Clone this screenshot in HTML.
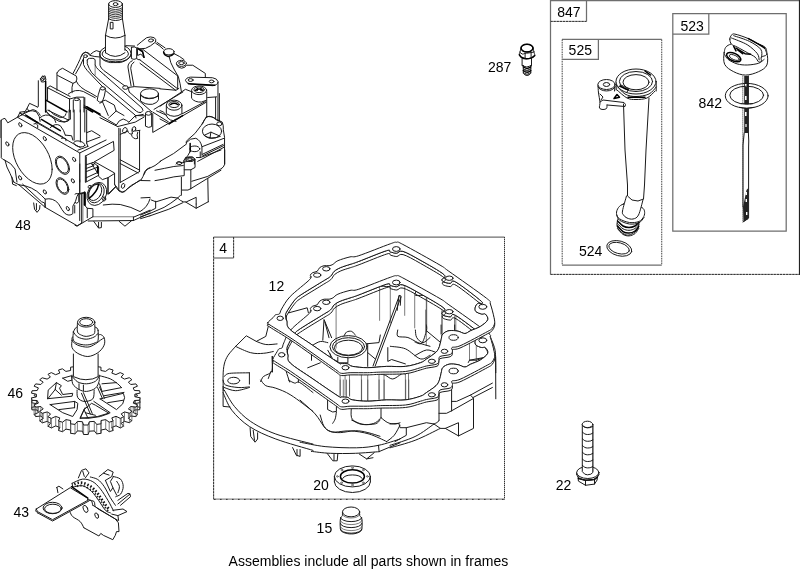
<!DOCTYPE html>
<html lang="en">
<head>
<meta charset="utf-8">
<title>Crankcase parts diagram</title>
<style>
html,body{margin:0;padding:0;background:#fff;}
body{width:800px;height:573px;overflow:hidden;font-family:"Liberation Sans",sans-serif;}
svg{display:block;filter:grayscale(1);}
.l,.t,.w,.h{vector-effect:non-scaling-stroke;stroke-linejoin:round;stroke-linecap:round;}
.l{fill:none;stroke:#1a1a1a;stroke-width:1;}
.h{fill:none;stroke:#000;stroke-width:1.5;}
.t{fill:none;stroke:#444;stroke-width:.7;}
.w{fill:#fff;stroke:#1a1a1a;stroke-width:1;}
.f{fill:none;stroke:#6e6e6e;stroke-width:1.25;}
.fb{fill:none;stroke:#aaa;stroke-width:1;}
.fd{fill:none;stroke:#303030;stroke-width:1;stroke-dasharray:2.2 .9;}
.fl{fill:none;stroke:#5a5a5a;stroke-width:1.1;stroke-dasharray:1.6 .8;}
.k{fill:#1a1a1a;stroke:none;}
text{font-family:"Liberation Sans",sans-serif;font-size:14px;fill:#000;}
</style>
</head>
<body>
<svg width="800" height="573" viewBox="0 0 800 573">
<rect width="800" height="573" fill="#fff"/>
<g id="frames">
<!-- frame 847 -->
<path class="f" d="M550.5 274.5V.6H799"/>
<path class="fb" d="M550.5 274.4H799.5"/><path class="fd" d="M550.5 274.4H799.5"/>
<path class="f" style="stroke:#222;stroke-width:1.2" d="M799.5 0V275"/>
<path class="f" d="M586.5 .5V21.4"/>
<path class="fb" d="M550.5 21.4H586.5"/><path class="fd" d="M550.5 21.4H586.5"/>
<!-- frame 525 -->
<path class="f" d="M562 39.4H661.8M562 265.1H661.8"/>
<path class="fl" d="M562.2 39.4V265.1M661.7 39.4V265.1"/>
<path class="f" d="M562.2 59.3H598.4V39.4"/>
<!-- frame 523 -->
<path class="f" d="M672.8 13.7H786.2V231H672.8Z"/>
<path class="f" d="M672.8 34.2H708.8V13.7"/>
<!-- frame 4 -->
<path class="f" d="M213.6 237H504.6"/>
<path class="fb" d="M213.6 237V499.3"/><path class="fd" d="M213.6 237V499.3"/>
<path class="fb" style="stroke:#8a8a8a;stroke-width:1.3" d="M213.6 499.2H504.6"/><path class="fd" style="stroke-dasharray:1.6 4.4" d="M214 499.4H504.6"/>
<path class="fb" d="M504.5 237V499.4"/><path class="fd" style="stroke-dasharray:1 1" d="M504.5 237V499.4"/>
<path class="f" d="M213.6 258H233.6"/>
<path class="fb" d="M233.6 237V258"/><path class="fd" d="M233.6 237V258"/>
</g>
<g id="block48">
<g transform="translate(60 0) scale(0.12563)">
<!-- crankshaft -->
<ellipse class="l" cx="442" cy="32" rx="55" ry="27"/>
<ellipse class="l" cx="442" cy="33" rx="19" ry="12"/>
<path class="l" d="M387 32V150M497 32V150"/>
<path class="l" style="stroke-width:.85" d="M387 62Q442 92 497 62M387 76Q442 106 497 76M387 90Q442 120 497 90M387 104Q442 134 497 104M387 118Q442 148 497 118M387 132Q442 162 497 132"/>
<path class="l" d="M387 150Q442 178 497 150"/>
<path class="l" d="M387 150L362 282M497 150L517 282"/>
<path class="l" d="M362 282Q440 325 517 282"/>
<path class="l" d="M403 178H422V230H403Z"/>
<path class="l" d="M362 282V420M517 282V400"/>
<path class="l" d="M362 420Q440 480 517 420"/>
</g>
<g transform="translate(60 0) scale(0.12563)">
<!-- bearing ring around shaft -->
<path class="l" d="M362 375Q318 395 315 428Q318 470 385 487Q440 497 500 487Q562 468 565 425Q560 385 517 368"/>
<path class="l" d="M362 395Q335 410 335 430Q340 462 400 475Q440 480 485 475Q540 460 545 428Q542 405 517 392"/>
<path class="l" d="M318 445Q330 485 400 498H480Q550 480 565 440"/>
<path class="t" d="M400 487V497M425 489V498M455 489V498M480 487V497"/>
<!-- left boss -->
<path class="l" d="M175 440Q180 418 205 416Q232 420 235 438"/>
<ellipse class="l" cx="203" cy="447" rx="15" ry="11"/>
<!-- right arm -->
<path class="l" d="M615 360Q650 330 690 300Q720 288 750 300Q770 315 760 335Q720 370 680 385L640 388"/>
<ellipse class="l" cx="724" cy="322" rx="20" ry="12" transform="rotate(-8 724 322)"/>
</g>
<g transform="translate(140 20) scale(0.12563)">
<path class="l" d="M125 185Q160 205 185 232M135 178L200 222"/>
<ellipse class="l" cx="230" cy="253" rx="42" ry="25"/>
<path class="h" d="M188 255Q190 282 225 290Q255 288 270 268"/>
<path class="l" d="M272 268Q320 290 350 315M232 292Q240 340 270 390L305 450Q320 500 330 573"/>
<ellipse class="l" cx="330" cy="345" rx="40" ry="24"/>
<ellipse class="l" cx="330" cy="343" rx="22" ry="12"/>
<path class="l" d="M290 352Q295 378 330 384Q362 382 370 360"/>
<path class="l" d="M375 360H420L520 425V455"/>
<path class="l" d="M400 455Q365 458 362 482Q368 505 405 510L580 523Q618 518 622 492Q615 465 580 460Z"/>
<ellipse class="l" cx="403" cy="478" rx="20" ry="11"/>
<ellipse class="l" cx="570" cy="489" rx="19" ry="11"/>
<path class="l" d="M20 232L300 445M0 318L300 548M0 345L285 560M300 445V548"/>
</g>

<g transform="translate(40 40) scale(0.12563)">
<!-- R1: left of shaft -->
<!-- small boss on slot -->
<ellipse class="l" cx="500" cy="385" rx="20" ry="13"/>
<path class="l" d="M478 390Q460 440 455 480Q470 500 495 495Q515 450 522 395"/>
<!-- rib right -->
<path class="l" d="M735 165Q700 180 700 215L725 365M748 175Q720 195 722 225L748 370"/>
<ellipse class="l" cx="680" cy="378" rx="22" ry="15"/>
<!-- rectangular block -->
<path class="l" d="M135 262Q150 232 180 225L290 288Q300 310 285 335L262 345L140 282"/>
<path class="l" d="M135 262V400M262 345Q250 370 255 420"/>
<path class="l" d="M290 330Q310 380 400 420L450 450M225 430Q280 385 345 410L440 460"/>
<!-- pin left -->
<path class="l" d="M5 305Q20 290 40 285L48 320Q35 340 15 335Z"/>
<ellipse class="l" cx="22" cy="315" rx="9" ry="9"/>
<path class="h" d="M45 330V573"/>
<!-- fins -->
<path class="l" d="M60 380L80 365L240 450M60 380L235 470M60 380V480"/>
<path class="h" d="M50 480L215 573"/>
<path class="l" d="M235 470V573M235 470L290 455H350V573M265 480V573M320 480V573"/>
<ellipse class="l" cx="292" cy="472" rx="22" ry="10"/>
<path class="l" d="M350 520L440 573"/>
<path class="h" d="M352 535L420 573"/>
</g>

<g transform="translate(0 60) scale(0.12563)">
<!-- R2: pin post, steps, panel -->
<path class="l" d="M305 165V370L300 375M322 150L340 125L358 150"/>
<path class="l" d="M0 490L20 470L40 465L62 500L140 455L160 415L200 410L215 385L235 345L300 375"/>
<path class="l" d="M160 415L175 440M215 385L230 405M140 455Q200 420 260 395Q300 400 320 440"/>
<path class="l" d="M365 400Q375 430 400 440L510 495Q545 492 560 470"/>
<path class="l" d="M380 400L545 478"/>
<path class="l" d="M675 300V573M560 470V400M700 380L796 440"/>
<path class="h" d="M690 372L796 432"/>
</g>
<g transform="translate(0 110) scale(0.12563)">
<!-- R3: head gasket face -->
<path class="l" d="M140 58L635 342V573"/>
<path class="l" d="M10 80V380Q20 395 40 400Q50 455 80 505L110 573M40 400Q90 420 120 470L135 573"/>
<path class="t" d="M4 95V220"/>
<g transform="matrix(.845 .465 0 1 258 385)">
<circle class="l" r="186"/>
</g>
<g transform="matrix(.845 .465 0 1 497 440)">
<circle class="l" r="66"/><circle class="l" r="57"/>
</g>
<g transform="matrix(.845 .465 0 1 0 0)">
<circle class="l" cx="191" cy="29" r="15"/>
<circle class="l" cx="422" cy="32" r="15"/>
<circle class="l" cx="69" cy="238" r="15"/>
<circle class="l" cx="698" cy="69" r="15"/>
<circle class="l" cx="189" cy="452" r="15"/>
<circle class="l" cx="686" cy="245" r="15"/>
<circle class="l" cx="588" cy="332" r="60"/><circle class="l" cx="588" cy="332" r="51"/>
<circle class="l" cx="422" cy="456" r="15"/>
<circle class="l" cx="639" cy="488" r="15"/>
</g>
<!-- fins above plate -->
<path class="l" d="M160 25L640 300M210 45L500 215"/>
<path class="h" d="M205 40L300 100M330 75L480 165"/>
<path class="l" d="M180 30Q230 -10 290 15Q320 50 320 90M320 60Q360 25 410 50Q440 70 445 100M400 140Q440 100 480 125Q510 160 520 200"/>
<path class="l" d="M270 110Q290 100 300 120V140M490 225Q510 215 525 230V245M520 200L570 205L580 240"/>
<path class="l" d="M375 20Q400 60 470 90Q530 105 550 70V0M390 0Q420 40 480 60Q520 60 525 30"/>
<path class="l" d="M590 0V240M640 0V255M690 0V265"/>
<ellipse class="l" cx="632" cy="270" rx="45" ry="22" transform="rotate(15 632 270)"/>
<path class="l" d="M620 320L700 290M635 342L796 262M690 265L700 290"/>
<path class="l" d="M690 180L730 165L796 205M690 255L796 215"/>
<!-- box right of corner -->
</g>

<g transform="translate(100 92) scale(0.12563)">
<!-- R4 -->
<ellipse class="l" cx="386" cy="170" rx="23" ry="15"/>
<path class="l" d="M362 172V272Q386 290 411 275V172"/>
<path class="l" d="M420 172V322L605 215M420 160L545 238M430 138L660 0M450 150L530 185"/>
<ellipse class="l" cx="590" cy="105" rx="62" ry="40"/>
<ellipse class="l" cx="590" cy="100" rx="42" ry="24"/>
<path class="h" d="M560 100Q590 80 620 100"/>
<path class="l" d="M528 110V172Q590 215 652 172V110"/>
<!-- left stuff -->
<path class="l" d="M0 185L130 262M0 205L140 275M130 262Q150 220 185 215Q215 225 230 240"/>
<path class="l" d="M140 275L280 240L350 200M230 240L280 190L345 178"/>
<ellipse class="l" cx="198" cy="305" rx="17" ry="23" transform="rotate(25 198 305)"/>
<ellipse class="l" cx="270" cy="295" rx="14" ry="20" transform="rotate(25 270 295)"/>
<path class="l" d="M280 310L318 305M250 340Q260 380 300 370Q290 340 300 320"/>
<!-- lower right curve -->
</g>

<g transform="translate(70 45) scale(0.07500)">
<!-- G: boss, slot start -->
<path class="l" d="M150 150Q150 115 205 95Q245 100 270 128Q310 90 350 75L400 90"/>
<path class="l" d="M270 140Q330 158 395 160"/>
<path class="l" d="M150 150Q120 230 40 380M178 185Q140 280 75 385"/>
<path class="l" d="M400 100V270Q410 310 450 340L735 548"/>
<path class="l" d="M230 200Q235 180 260 178H305Q330 180 335 200V265Q345 300 380 330L460 400"/>
<path class="l" d="M230 200V250Q250 310 290 370L400 475"/>
<path class="t" d="M335 265V400"/>
<path class="l" d="M180 170V260Q195 300 230 340L400 520L440 560"/>
</g>
<g transform="translate(100 75) scale(0.07500)">
<!-- F: slot, cylinder boss -->
<path class="l" d="M60 0L560 440Q592 475 548 500Q510 503 488 485L0 75"/>
<path class="l" d="M85 215L470 535L480 573M390 228L690 490"/>
<path class="l" d="M383 170Q375 200 390 228M385 165L460 155L800 178M475 540L600 545"/>
<ellipse class="l" cx="660" cy="250" rx="120" ry="66"/>
<path class="l" d="M540 255V345Q600 400 700 390Q770 370 780 330V255"/>
<path class="l" d="M545 272Q640 345 775 285"/>
<path class="l" d="M30 350L70 335L190 400L215 480L130 560L115 573M30 350L0 380M30 350L110 540M215 480L320 540"/>
</g>

<g transform="translate(160 70) scale(0.09425)">
<!-- H: screw bosses, right wall -->
<path class="h" d="M300 145L580 162"/>
<ellipse class="l" cx="415" cy="215" rx="80" ry="46"/>
<ellipse class="l" cx="415" cy="210" rx="55" ry="30"/>
<path class="h" d="M375 215Q415 190 455 215M395 195V215M435 195V215"/>
<path class="l" d="M335 225V300Q370 345 440 340L490 322M496 230V500"/>
<path class="l" d="M0 385L270 205L330 228M235 465L480 335M90 573L490 342"/>
<path class="h" d="M100 570L240 485"/>
<path class="l" d="M590 290V520M615 130V540M630 250V540M505 292L600 285"/>
<path class="l" d="M450 573Q470 520 500 495Q550 480 600 530L640 545"/>
<path class="l" d="M0 200L170 215L200 195"/>
<path class="l" d="M0 430Q40 440 60 470Q80 520 110 530L170 545M0 520L100 573"/>
</g>

<g transform="translate(160 110) scale(0.09425)">
<!-- I: mounting bosses right -->
<path class="l" d="M490 75Q540 55 600 100L660 128Q675 160 672 210L685 290V573"/>
<path class="l" d="M490 75Q440 170 370 250L290 320Q272 335 278 355"/>
<ellipse class="l" cx="552" cy="225" rx="102" ry="76"/>
<path class="l" d="M470 268L540 235L625 272M540 235L530 300M468 270Q540 320 640 280"/>
<ellipse class="l" cx="630" cy="147" rx="28" ry="20"/>
<path class="l" d="M280 345Q320 295 380 300Q430 320 445 390V480"/>
<ellipse class="l" cx="370" cy="412" rx="52" ry="30"/>
<path class="h" d="M320 355V440"/>
<path class="l" d="M320 440Q300 480 270 520M445 390L680 300M450 470L670 365M455 485L675 378M400 545L680 395"/>
<path class="l" d="M0 545Q150 470 280 362"/>
<ellipse class="l" cx="320" cy="522" rx="45" ry="25"/>
<ellipse class="l" cx="318" cy="522" rx="25" ry="13"/>
<path class="l" d="M170 573L200 548L240 560M365 530V573M250 540L275 500"/>
</g>

<g transform="translate(155 150) scale(0.09425)">
<!-- J: lower right -->
<path class="l" d="M740 0V150Q730 185 700 200L560 280L390 332"/>
<path class="l" d="M700 215L560 300L380 410M560 300L565 550"/>
<path class="l" d="M300 130L350 80L400 75L425 100V185L380 210H310V130ZM300 130L360 118L425 100"/>
<path class="l" d="M-85 206Q-40 185 0 165L60 120M-85 206Q-105 230 -115 258"/>
<ellipse class="l" cx="255" cy="140" rx="28" ry="14" transform="rotate(10 255 140)"/>
<path class="l" d="M0 215Q100 195 200 175L300 165M0 325Q100 310 200 285L310 272V210"/>
<path class="l" d="M380 210V410M280 290V480M290 425H350L380 410"/>
<path class="l" d="M-40 530L10 550L170 500L240 510L270 480M240 510Q270 540 300 550L330 552L437 502V573"/>
<path class="l" d="M480 20V80L700 0M440 80L480 80"/>
</g>

<g transform="translate(0 164) scale(0.12563)">
<!-- K: bottom of head face -->
<path class="l" d="M150 165L360 345L615 492L650 470"/>
<path class="l" d="M95 105L100 160L130 172M105 140Q125 155 150 165"/>
<path class="l" d="M150 165Q260 175 330 250L360 280Q420 265 465 315Q495 370 515 392Q550 420 580 395V335Q605 300 612 260L625 235"/>
<path class="l" d="M180 160L330 300L355 310L360 345M360 280V345M595 330V390"/>
<path class="l" d="M268 310L275 360L295 385L315 360L318 330M290 315V365"/>
<path class="l" d="M635 0V240L650 235V470M625 235H665L680 225V330"/>
<path class="t" d="M660 240V460"/>
</g>

<g transform="translate(75 140) scale(0.09425)">
<!-- M: box window & frame -->
<path class="l" d="M265 31L330 0"/>
<path class="l" d="M110 170L408 15L415 110L205 232M110 170V450L250 375M120 178V440"/>
<path class="l" d="M120 262L190 240M120 302L200 272M120 335L235 290M120 400L240 345"/>
<ellipse class="l" cx="192" cy="250" rx="15" ry="12"/>
<path class="l" d="M180 258L240 350M205 245L250 285V385L290 420L350 400L420 355"/>
<path class="h" d="M240 275V350"/>
<path class="l" d="M210 232L420 350V470M350 400V573M360 573L430 500"/>
<path class="l" d="M465 -125V520M480 -120V450M685 -100V335"/>
<path class="l" d="M480 210L685 320M480 250L670 350M480 450L685 335"/>
<ellipse class="l" cx="510" cy="487" rx="17" ry="27" transform="rotate(20 510 487)"/>
<path class="l" d="M420 470Q425 500 470 545Q500 560 525 550Q570 500 600 480L700 425Q725 390 740 335Q765 300 796 292M700 430L796 432"/>
<path class="l" d="M480 -60L560 -95M560 -95Q570 -55 610 -65Q600 -95 610 -115"/>
</g>

<g transform="translate(75 180) scale(0.09425)">
<!-- N: port flange and base -->
<ellipse class="l" cx="232" cy="148" rx="98" ry="128" transform="rotate(28 232 148)"/>
<ellipse class="l" cx="225" cy="140" rx="78" ry="108" transform="rotate(28 225 140)"/>
<ellipse class="l" cx="215" cy="132" rx="62" ry="92" transform="rotate(28 215 132)"/>
<path class="h" d="M250 50Q235 130 150 195"/>
<ellipse class="l" cx="155" cy="72" rx="18" ry="14" transform="rotate(-30 155 72)"/>
<ellipse class="l" cx="310" cy="202" rx="16" ry="22" transform="rotate(20 310 202)"/>
<path class="l" d="M50 0V430M0 480L20 490L190 390M100 130V265L130 300L190 305V390M130 300V400"/>
<path class="h" d="M100 130V265"/>
<path class="l" d="M60 140L100 130"/>
<path class="t" d="M190 390H620"/>
<path class="l" d="M140 435L620 430M620 395L796 320M620 430L796 350M620 395V430"/>
<path class="l" d="M200 440L250 510L280 505V450M250 450V505M470 440L530 490L600 432"/>
<path class="l" d="M300 265Q400 250 480 260Q600 285 690 335Q770 290 796 200M700 190L796 185"/>
<path class="l" d="M350 -20V150L430 70M430 60Q470 120 500 130Q540 115 560 90L690 0"/>
<path class="l" d="M0 150Q30 130 40 160V230Q20 260 0 240"/>
</g>

<g transform="translate(150 180) scale(0.09425)">
<!-- O: bottom right foot -->
<path class="l" d="M620 230L490 300L380 235M490 255V300"/>
<path class="l" d="M60 225V300L0 330M290 195Q220 250 150 290L0 355M350 240L200 310L0 380"/>
<path class="l" d="M-100 372L0 330M-100 390L0 355M-100 410L0 380"/>
</g>
<g transform="translate(100 40) scale(0.12563)">
<!-- strap + triangle between ring and arm -->
<path class="l" d="M250 58V148Q270 160 292 148V62Q275 50 250 58M205 45L275 48"/>
<path class="l" d="M300 62L335 80L352 142L325 112L302 122Z"/>
<path class="h" d="M305 70L340 95L350 138"/>
<path class="l" d="M292 148Q300 160 318 158"/>
</g>
</g>
<g id="sump12">
<path class="t" d="M379.6 286.5L379.6 320.4"/>
<path class="t" d="M390.3 285.2L390.3 322.9"/>
<path class="t" d="M404.7 284L404.7 315.4"/>
<path class="t" d="M414.7 295.3L414.7 327.9"/>
<path class="t" d="M426.7 295.9L426.7 330.5"/>
<path class="l" d="M378.9 285.9C380.6 286 386.9 286.7 389 286.5C391.1 286.3 390.4 284.8 391.5 284.6C392.7 284.4 394.2 285.3 395.9 285.2C397.6 285.1 400.2 284.2 401.6 284C402.9 283.8 401.8 282.9 404.1 284C406.4 285 413.5 288.4 415.4 290.3C417.3 292.1 413.5 294.3 415.4 295.3C417.3 296.2 422.6 294.4 426.7 295.9C430.8 297.4 437.8 302.7 440 304.1"/>
<path class="l" d="M397.2 310.4L399 295.3 400.9 295.9 400.3 305.3"/>
<path class="l" d="M399.2 296L373 366"/>
<path class="l" d="M401 297L375.2 366"/>
<path class="t" d="M426.3 296.5L426.3 345.5"/>
<path class="t" d="M442 311.5L442 342.9"/>
<path class="t" d="M454.5 316.6L454.5 336.7"/>
<path class="l" d="M288.9 312.8L307.2 307.8 308.4 312.8"/>
<path class="t" d="M336.1 300.2L336.1 348"/>
<path class="l" d="M322.8 340.2L324 319.5 331.6 337.7"/>
<path class="l" d="M324.9 322L329 337.7"/>
<ellipse class="l" cx="348.5" cy="346.7" rx="18.6" ry="11.1"/>
<ellipse class="l" cx="348.5" cy="346.7" rx="16.1" ry="9"/>
<ellipse class="l" cx="348.5" cy="347.7" rx="14.1" ry="7.5"/>
<path class="l" d="M344.1 335.8C344.5 335.2 345.4 332.8 346.6 332C347.9 331.3 350.2 330.9 351.7 331.4C353.1 331.9 354.8 334.5 355.4 335.2"/>
<path class="l" d="M312.7 345.2C314 344.6 317.7 341.9 320.3 341.5C322.8 341 326.5 342.5 327.8 342.7"/>
<path class="l" d="M311.5 346.5L311.5 360.3"/>
<path class="l" d="M327.8 350.3L332.8 359 337.8 361.6"/>
<path class="l" d="M330.3 354L330.3 362.8"/>
<path class="l" d="M283.8 347.7L283.8 360.3 288.8 372"/>
<path class="l" d="M307.7 367.8L320.3 362.8"/>
<path class="l" d="M272.5 356.5L272.5 372"/>
<path class="l" d="M337.8 357.2L337.8 362.8 347.9 362.8 347.9 357.2"/>
<path class="l" d="M366.4 343.8L379 342.6 380.3 335"/>
<path class="l" d="M367.7 343.8L367.7 366.4"/>
<path class="l" d="M367.7 352.6L375.2 358.9"/>
<path class="l" d="M390.3 346.3C392.8 346.8 400.4 346.8 405.4 348.8C410.4 350.9 416.3 357.8 420.5 358.9C424.6 359.9 428.4 355.8 430 355.1"/>
<path class="l" d="M387.8 347.6L387.8 361.4 391.6 359.5 405.4 363.9"/>
<path class="l" d="M397.8 330C397.8 331 396.2 335 397.8 336.3C399.5 337.5 404.5 336.5 407.9 337.5C411.2 338.6 414.3 341.1 417.9 342.6C421.6 344 428 345.7 430 346.3"/>
<path class="l" d="M415.4 330C415.6 331.3 415.4 335.4 416.7 337.5C417.9 339.6 420.7 342.6 423 342.6C425.2 342.6 428.8 338.4 430 337.5"/>
<path class="t" d="M340.1 374L340.1 395.3"/>
<path class="t" d="M345.1 374L345.1 395.3"/>
<path class="t" d="M349.5 374L349.5 395.3"/>
<path class="t" d="M361.4 374L361.4 402"/>
<path class="t" d="M367.7 374L367.7 402"/>
<path class="t" d="M379 374L379 402"/>
<path class="t" d="M384 374L384 402"/>
<path class="t" d="M405.4 372.7L405.4 400.4"/>
<path class="t" d="M408.5 372.7L408.5 400.4"/>
<path class="l" d="M380.3 374C381.1 374.2 383.2 374.4 385.3 375.2C387.4 376.1 390.1 379.2 392.8 379C395.5 378.8 399.5 374.8 401.6 374C403.7 373.1 404.7 374 405.4 374"/>
<path class="l" d="M415 342C416.1 342.2 419.9 345.1 421.8 343.2C423.7 341.3 425.6 333.7 426.4 330.7C427.1 327.6 426.4 325.9 426.4 325"/>
<path class="l" d="M426.4 330.7L440 342"/>
<path class="l" d="M441.1 325L441.1 334.1"/>
<path class="l" d="M454.7 325L454.7 330.7"/>
<path class="l" d="M415 355.6C416.9 354.7 422.9 350.5 426.4 350C429.8 349.4 433.9 351.9 435.4 352.2"/>
<path class="l" d="M488.8 332.9C489.7 335.4 493.3 343.7 494.5 347.7C495.6 351.7 495.4 352.6 495.6 356.8C495.8 360.9 495.8 370 495.8 372.7"/>
<path class="t" d="M476.3 339.8L476.3 359.1"/>
<path class="t" d="M469.5 342L469.5 360.2"/>
<path class="l" d="M484.2 346.6C484.8 347.5 487.5 350.5 487.6 352.2C487.8 353.9 487.3 355.5 485.4 356.8C483.5 358.1 477.8 359.6 476.3 360.2"/>
<path class="l" d="M476.3 360.2L469.5 360.2 468.3 362.5"/>
<path class="l" d="M469.5 360.2L494.5 355.6"/>
<path class="l" d="M495.6 356.8L495.8 398.8"/>
<path class="t" d="M425.7 310L425.7 331.4"/>
<path class="t" d="M442 310L442 333.9"/>
<path class="t" d="M455.8 316.3L455.8 331.4"/>
<path class="l" d="M235.6 346.4C234.4 347.9 230 352.3 228.1 355.2C226.2 358.2 225.1 360.7 224.3 364C223.5 367.4 223.2 370.9 223.1 375.3C222.9 379.7 223.3 387.9 223.3 390.4"/>
<path class="l" d="M235.6 346.4L246.3 335.8 256.3 341.4 265.8 336.4 268.3 326.3"/>
<path class="l" d="M235.6 346.4C238.1 347.5 246.1 351.6 250.7 352.7C255.3 353.9 259.5 353.6 263.3 353.3C267 353.1 271.6 351.8 273.3 351.5"/>
<path class="l" d="M256.3 341.4C257.9 341.9 262.3 344.1 265.8 344.5C269.2 345 275.2 344 277.1 343.9"/>
<path class="l" d="M224.3 376.6C225.1 376.1 225.1 374.1 229.3 373.4C233.5 372.8 246.1 372.9 249.4 372.8"/>
<path class="l" d="M249.4 372.8L249.4 384.1"/>
<path class="l" d="M272 356.5C272 358.8 272.7 367.4 272 370.3C271.4 373.2 269.7 373 268.3 374.1C266.8 375.1 264.5 375.3 263.3 376.6C262 377.8 261.2 380.8 260.7 381.6"/>
<path class="l" d="M270.8 371.6L268.3 378.5"/>
<path class="l" d="M284 360.3C284.3 361.9 284.9 366.7 285.9 370.3C286.8 373.9 289 380 289.6 382"/>
<path class="l" d="M289.6 362.8L288.4 369 298.4 370.3 298.4 382"/>
<ellipse class="l" cx="233.7" cy="380.6" rx="6" ry="3.3"/>
<path class="l" d="M223.1 380C223.5 380.8 223.1 383.8 225.6 385C228.1 386.3 234.1 387.2 238.1 387.5C242.1 387.9 247.5 387 249.4 386.9"/>
<path class="l" d="M224.3 387.5C226.2 388.1 231.4 390.7 235.6 390.7C239.8 390.7 247.1 388.1 249.4 387.5"/>
<path class="l" d="M223.1 386.3L223.1 406.4 230 407"/>
<path class="l" d="M224.3 390.1C226 392.8 230 401.1 234.4 406.4C238.8 411.6 243.8 416.9 250.7 421.5C257.6 426.1 265.4 430.3 275.8 434C286.2 437.8 306.8 442.4 313 444.1"/>
<path class="l" d="M223.1 392.6C224.5 395.5 227.4 404.5 231.8 410.2C236.2 415.8 242.1 421.7 249.4 426.5C256.8 431.3 265.2 435.1 275.8 439C286.4 443 306.8 448.5 313 450.4"/>
<path class="l" d="M250.1 427.7L250.7 436.5 255.1 442.2 257.6 439 257.6 432.8"/>
<path class="l" d="M253.2 430.3L254.5 440.3"/>
<path class="l" d="M260.7 380C261.6 380.9 263.3 384.3 265.8 385.7C268.3 387 271.6 386.6 275.8 388.2C280 389.7 284.7 391.2 290.9 395.1C297.1 398.9 309.3 408.7 313 411.4"/>
<path class="l" d="M288.4 380C289.4 380.5 292.8 382.7 294.7 383.1C296.5 383.6 296.6 380.9 299.7 382.5C302.7 384.1 310.8 390.9 313 392.6"/>
<path class="l" d="M327.6 393.8L330.2 392.6"/>
<path class="l" d="M327.6 395.1L327.6 409.5 332.7 412 336.4 411.4 336.4 398.8 330.2 397.6 327.6 395.1"/>
<path class="l" d="M336.4 412C336.2 413.2 335.8 417.1 335.2 418.9C334.5 420.8 333.1 422.6 332.7 423.3"/>
<path class="l" d="M351.5 405.1C351.5 407.2 350.5 414.8 351.5 417.7C352.6 420.6 355.3 421.6 357.8 422.7C360.3 423.9 363.7 424.6 366.6 424.6C369.5 424.6 373 423.9 375.4 422.7C377.8 421.6 380.1 418.5 381 417.7"/>
<path class="l" d="M381 403.9L381 417.7"/>
<path class="l" d="M381 417.7C382.2 418.5 385.5 421.7 387.9 422.7C390.3 423.8 393.5 424 395.5 424C397.5 424 399.2 422.9 400 422.7"/>
<path class="t" d="M340.2 380L340.2 396.3"/>
<path class="t" d="M343.3 380L343.3 396.3"/>
<path class="t" d="M346.5 380L346.5 396.3"/>
<path class="t" d="M349.6 380L349.6 396.3"/>
<path class="t" d="M361.6 380L361.6 401.4"/>
<path class="t" d="M367.8 380L367.8 401.4"/>
<path class="t" d="M379.1 380L379.1 398.8"/>
<path class="t" d="M384.2 380L384.2 398.8"/>
<path class="l" d="M300 400.1C302.5 402.4 311.1 409.5 315.1 413.9C319.1 418.3 321.6 423.7 323.9 426.5C326.2 429.3 327 429.9 328.9 430.9C330.8 431.8 331.6 432.1 335.2 432.1C338.7 432.1 344.6 430.6 350.3 430.9C355.9 431.2 363 432.2 369.1 434C375.2 435.8 383.8 440.3 386.7 441.6"/>
<path class="l" d="M386.7 441.6C387.9 440.5 392 438 394.2 435.3C396.4 432.6 399 426.9 400 425.2"/>
<path class="l" d="M300 442.2C304.2 442.9 315.7 445.6 325.1 446.6C334.5 447.5 347.6 448 356.5 447.8C365.4 447.6 371.3 446.8 378.5 445.3C385.8 443.9 396.4 440.1 400 439"/>
<path class="l" d="M378.5 445.3L379.1 451.6 400 442.8"/>
<path class="l" d="M439 392.6L439 420.2"/>
<path class="l" d="M451.6 386.3L451.6 410.8"/>
<path class="l" d="M439 413.3L446.5 413.3 451.6 410.8"/>
<path class="l" d="M451.6 401.4L456.6 401.4 470.4 395.1 492.4 383.1"/>
<path class="l" d="M472.9 397.6L492.4 387.5"/>
<path class="l" d="M470.4 395.1L473.5 398.2 473.5 428.4 458.5 435.9 445.3 428.4 440.3 428.4 434 424"/>
<path class="l" d="M445.3 428.4L458.5 422.7 458.5 435.9"/>
<path class="l" d="M451.6 410.8L472.9 398.8"/>
<path class="l" d="M439 420.2C438.8 420.5 438.6 421.5 437.7 422.1C436.9 422.7 434.6 423.7 434 424"/>
<path class="l" d="M434 424L426.4 422.7 406.3 427.7 400.1 427.7 398.8 423.3 390 424"/>
<path class="l" d="M406.3 427.7L406.3 435.3 395 441.6"/>
<path class="l" d="M434 424C430.8 426.1 422.5 433 415.1 436.5C407.8 440.1 394.2 443.9 390 445.3"/>
<path class="l" d="M440.3 428.4C436.1 430.4 423.5 437.1 415.1 440.3C406.8 443.5 394.2 446.6 390 447.8"/>
<path class="t" d="M405.7 380L405.7 398.8"/>
<path class="t" d="M408.8 380L408.8 398.8"/>
<path class="l" d="M311.4 451.4C314.5 451.7 322.9 453 330.3 453.3C337.6 453.6 347.2 453.6 355.4 453.3C363.5 453 375.3 451.9 379.2 451.7"/>
<path class="l" d="M292.6 447.6L296.3 455.2 300.1 456.4 300.1 449.5"/>
<path class="l" d="M297 449.5L297 455.8"/>
<path class="l" d="M327.1 453.3L332.8 460.8 337.2 460.8 337.8 453.9"/>
<path class="l" d="M334 454.5L334 460.2"/>
<path class="l" d="M359.1 453.9L366.7 458.9 374.2 452.7"/>
<path class="l" d="M366.7 458.9L373 457.7"/>
<path class="l" d="M320.2 415C320.8 416.9 322.3 423.6 324 426.3C325.6 429 327.5 430.3 330.3 431.3C333 432.4 336.1 432.7 340.3 432.6C344.5 432.5 350.8 430.7 355.4 430.7C360 430.7 363.8 431.6 367.9 432.6C372 433.5 378 435.7 380 436.3"/>
<path class="l" d="M351.6 420C353.3 420.7 357.7 423.8 361.7 424.4C365.6 425 372.4 424.5 375.5 423.8C378.5 423 379.2 420.6 380 420"/>
<path class="w" fill-rule="evenodd" d="M272.8 361.6C273.3 360 276.1 355.9 277.1 354.2C278.1 352.5 278.1 352.1 278.9 351.4C279.8 350.8 281.3 351.3 282.1 350.3C282.9 349.3 282.4 348.3 283.8 345.4C285.2 342.4 286.3 337.5 290.6 332.6C294.9 327.6 306.4 319.1 309.7 315.5C313 311.9 309.8 312.2 310.3 311.1C310.8 310 311.7 309.2 312.8 308.6C313.9 308 316.1 308.1 317.2 307.3C318.3 306.5 318.5 304.5 319.7 303.6C320.9 302.7 322.5 302 324.1 301.7C325.7 301.4 327.6 301.9 329.1 301.7C330.6 301.5 331.4 301.2 332.9 300.4C334.4 299.6 335 297.9 337.9 296.7C340.8 295.4 346.5 293.7 350 292.9C353.5 292.1 352.1 293.9 358.8 291.7C365.5 289.5 384 282 390.3 279.8C396.6 277.6 394.4 278.2 396.5 278.3C398.6 278.4 395.6 276.6 402.8 280.4C410.1 284.2 432.3 296.6 440 301.1C447.7 305.6 441.1 301.8 448.9 307.3C456.7 312.8 479.7 328.9 486.6 334.3C493.5 339.8 489.1 336.8 490.4 340C491.6 343.2 493.4 350.5 494.1 353.8C494.8 357.1 494.9 358.2 494.5 360C494.1 361.8 493.1 363.3 492 364.5C490.9 365.7 493 364.6 487.8 367.4C482.6 370.2 467 378.7 461 381.4C455 384.1 453.4 382.6 452 383.5C450.6 384.4 452.8 385.8 452.5 387C452.2 388.2 452.3 389.6 450.2 390.5C448.1 391.4 441.9 391.5 440 392.5C438.1 393.5 439.3 395.2 438.8 396.5C438.3 397.8 439.1 399.1 437 400C434.9 400.9 429.1 401.4 426.4 402C423.6 402.6 424 402.8 420.5 403.7C417 404.6 412.1 406.8 405.4 407.5C398.7 408.2 386.6 407.9 380.3 408.1C374 408.3 372.7 408.6 367.7 408.7C362.7 408.8 354.5 408.6 350.1 408.7C345.7 408.8 343.7 409.8 341.3 409.3C338.9 408.8 340.2 408.8 335.5 405.5C330.8 402.2 320.5 394.8 313 389.5C305.5 384.2 296.8 378 290.4 373.8C284 369.5 277.5 365.8 274.6 363.8C271.7 361.7 272.4 363.2 272.8 361.6ZM287.1 349.7C287 348.2 286.4 348.5 287.6 345.9C288.7 343.4 291.9 337.3 294 334.4C296.1 331.5 295.7 331.8 300.3 328.7C304.9 325.6 316.6 318.6 321.6 315.5C326.6 312.4 328.3 311.7 330.4 309.9C332.5 308.1 332.5 306.3 334.2 304.8C335.9 303.3 337.9 302.2 340.5 301.1C343.1 300 346.9 298.9 350 297.9C353.1 296.9 352.7 297.2 358.8 294.9C364.9 292.6 381.2 285.8 386.5 284.2C391.8 282.6 388.6 285 390.3 285.4C392 285.8 394.4 286.8 396.5 286.7C398.6 286.6 398.9 283.7 402.8 284.8C406.7 285.9 413.1 289.6 420 293.5C426.9 297.4 440.2 304.8 443.9 308C447.6 311.2 442 311.8 442 313C442 314.2 442.5 314.9 443.9 315.5C445.3 316.1 448.2 316.8 450.2 316.8C452.2 316.8 450.6 312.5 455.8 315.5C461 318.5 477.9 331.4 481.6 335C485.3 338.6 478.9 336 477.8 336.9C476.8 337.8 475.6 339.2 475.3 340.6C475 342 474.8 343.9 475.9 345C476.9 346.1 480 347.1 481.6 347.5C483.2 347.9 484.3 346.6 485.3 347.5C486.3 348.4 488.6 351.1 487.8 353.2C487 355.3 483.2 358.2 480.3 360C477.4 361.8 473.2 363 470.6 364.2C468 365.4 467 366.9 464.9 367C462.8 367.1 460.7 365.2 458.1 364.7C455.5 364.2 451.7 363.7 449.1 364.2C446.6 364.7 444.1 366.1 442.8 367.6C441.5 369.1 441.7 371.2 441.1 373.3C440.5 375.4 440.2 378 439.4 380.1C438.5 382.2 438.2 383.6 436 385.7C433.8 387.8 429 390.9 426.4 392.6C423.8 394.4 424 395 420.5 396.2C417 397.4 411.1 399.3 405.4 399.9C399.7 400.5 392.8 399.7 386.5 399.9C380.2 400.1 373.3 401.2 367.7 401.2C362.1 401.2 356 400.5 352.6 399.9C349.2 399.3 349.5 397.9 347.6 397.4C345.7 396.9 342.9 397.2 341.3 397C339.7 396.8 342.7 399 338 396C333.3 393 320.9 384.5 313 379C305.1 373.5 294.6 367.2 290.4 363.2C286.2 359.3 288.4 357.4 287.9 355.1C287.3 352.9 287.1 351.3 287.1 349.7Z"/>
<path class="w" fill-rule="evenodd" d="M272.8 359.1C273.3 357.5 276.1 353.4 277.1 351.7C278.1 350 278.1 349.6 278.9 348.9C279.8 348.3 281.3 348.8 282.1 347.8C282.9 346.8 282.4 345.8 283.8 342.9C285.2 339.9 286.3 335 290.6 330.1C294.9 325.1 306.4 316.6 309.7 313C313 309.4 309.8 309.8 310.3 308.6C310.8 307.5 311.7 306.7 312.8 306.1C313.9 305.5 316.1 305.6 317.2 304.8C318.3 304 318.5 302 319.7 301.1C320.9 300.2 322.5 299.5 324.1 299.2C325.7 298.9 327.6 299.4 329.1 299.2C330.6 299 331.4 298.7 332.9 297.9C334.4 297.1 335 295.4 337.9 294.2C340.8 292.9 346.5 291.2 350 290.4C353.5 289.6 352.1 291.4 358.8 289.2C365.5 287 384 279.5 390.3 277.3C396.6 275.1 394.4 275.7 396.5 275.8C398.6 275.9 395.6 274.1 402.8 277.9C410.1 281.7 432.3 294.1 440 298.6C447.7 303.1 441.1 299.3 448.9 304.8C456.7 310.3 479.7 326.4 486.6 331.8C493.5 337.2 489.1 334.2 490.4 337.5C491.6 340.8 493.4 348 494.1 351.3C494.8 354.6 494.9 355.7 494.5 357.5C494.1 359.3 493.1 360.8 492 362C490.9 363.2 493 362.1 487.8 364.9C482.6 367.7 467 376.2 461 378.9C455 381.6 453.4 380.1 452 381C450.6 381.9 452.8 383.3 452.5 384.5C452.2 385.7 452.3 387.1 450.2 388C448.1 388.9 441.9 389 440 390C438.1 391 439.3 392.8 438.8 394C438.3 395.2 439.1 396.6 437 397.5C434.9 398.4 429.1 398.9 426.4 399.5C423.6 400.1 424 400.3 420.5 401.2C417 402.1 412.1 404.3 405.4 405C398.7 405.7 386.6 405.4 380.3 405.6C374 405.8 372.7 406.1 367.7 406.2C362.7 406.3 354.5 406.1 350.1 406.2C345.7 406.3 343.7 407.3 341.3 406.8C338.9 406.3 340.2 406.3 335.5 403C330.8 399.7 320.5 392.3 313 387C305.5 381.7 296.8 375.5 290.4 371.2C284 367 277.5 363.3 274.6 361.2C271.7 359.2 272.4 360.7 272.8 359.1ZM287.1 349.7C287 348.2 286.4 348.5 287.6 345.9C288.7 343.4 291.9 337.3 294 334.4C296.1 331.5 295.7 331.8 300.3 328.7C304.9 325.6 316.6 318.6 321.6 315.5C326.6 312.4 328.3 311.7 330.4 309.9C332.5 308.1 332.5 306.3 334.2 304.8C335.9 303.3 337.9 302.2 340.5 301.1C343.1 300 346.9 298.9 350 297.9C353.1 296.9 352.7 297.2 358.8 294.9C364.9 292.6 381.2 285.8 386.5 284.2C391.8 282.6 388.6 285 390.3 285.4C392 285.8 394.4 286.8 396.5 286.7C398.6 286.6 398.9 283.7 402.8 284.8C406.7 285.9 413.1 289.6 420 293.5C426.9 297.4 440.2 304.8 443.9 308C447.6 311.2 442 311.8 442 313C442 314.2 442.5 314.9 443.9 315.5C445.3 316.1 448.2 316.8 450.2 316.8C452.2 316.8 450.6 312.5 455.8 315.5C461 318.5 477.9 331.4 481.6 335C485.3 338.6 478.9 336 477.8 336.9C476.8 337.8 475.6 339.2 475.3 340.6C475 342 474.8 343.9 475.9 345C476.9 346.1 480 347.1 481.6 347.5C483.2 347.9 484.3 346.6 485.3 347.5C486.3 348.4 488.6 351.1 487.8 353.2C487 355.3 483.2 358.2 480.3 360C477.4 361.8 473.2 363 470.6 364.2C468 365.4 467 366.9 464.9 367C462.8 367.1 460.7 365.2 458.1 364.7C455.5 364.2 451.7 363.7 449.1 364.2C446.6 364.7 444.1 366.1 442.8 367.6C441.5 369.1 441.7 371.2 441.1 373.3C440.5 375.4 440.2 378 439.4 380.1C438.5 382.2 438.2 383.6 436 385.7C433.8 387.8 429 390.9 426.4 392.6C423.8 394.4 424 395 420.5 396.2C417 397.4 411.1 399.3 405.4 399.9C399.7 400.5 392.8 399.7 386.5 399.9C380.2 400.1 373.3 401.2 367.7 401.2C362.1 401.2 356 400.5 352.6 399.9C349.2 399.3 349.5 397.9 347.6 397.4C345.7 396.9 342.9 397.2 341.3 397C339.7 396.8 342.7 399 338 396C333.3 393 320.9 384.5 313 379C305.1 373.5 294.6 367.2 290.4 363.2C286.2 359.3 288.4 357.4 287.9 355.1C287.3 352.9 287.1 351.3 287.1 349.7Z"/>
<path class="l" d="M287.4 353C287.5 352.4 286.7 351.8 287.9 349.2C289 346.7 292.2 340.6 294.3 337.7C296.4 334.8 296 335.1 300.6 332C305.2 328.9 316.9 321.9 321.9 318.8C326.9 315.7 328.6 315 330.7 313.2C332.8 311.4 332.8 309.6 334.5 308.1C336.2 306.6 338.2 305.6 340.8 304.4C343.4 303.2 347.2 302.2 350.3 301.2C353.4 300.2 353 300.5 359.1 298.2C365.2 295.9 381.6 289.1 386.8 287.5C392.1 285.9 388.9 288.3 390.6 288.7C392.3 289.1 394.7 290.1 396.8 290C398.9 289.9 399.2 287 403.1 288.1C407 289.2 413.5 292.9 420.3 296.8C427.1 300.7 440.5 308.1 444.2 311.3C447.9 314.6 442.3 315.1 442.3 316.3C442.3 317.6 442.8 318.2 444.2 318.8C445.6 319.4 448.5 320.1 450.5 320.1C452.5 320.1 450.9 315.8 456.1 318.8C461.3 321.8 477.6 335.1 481.9 338.3"/>
<ellipse class="l" cx="281.7" cy="354.8" rx="3.2" ry="2.2"/>
<ellipse class="l" cx="317.2" cy="308.6" rx="3.7" ry="2.2"/>
<ellipse class="l" cx="326.3" cy="302.3" rx="3.7" ry="2.2"/>
<ellipse class="l" cx="396.3" cy="282.5" rx="3.8" ry="2.4"/>
<ellipse class="l" cx="449.3" cy="311.7" rx="3.8" ry="2.2"/>
<ellipse class="l" cx="482.8" cy="340.3" rx="4" ry="2.5"/>
<ellipse class="l" cx="453.6" cy="371" rx="4.6" ry="2.8"/>
<ellipse class="l" cx="444.5" cy="384.8" rx="3.3" ry="2.1"/>
<ellipse class="l" cx="431.9" cy="394.8" rx="3.5" ry="2.1"/>
<ellipse class="l" cx="345.5" cy="401.2" rx="3.5" ry="2.2"/>
<path class="w" fill-rule="evenodd" d="M267.8 324.8C268.3 323.6 271.9 321 273.2 319.7C274.5 318.4 274.4 317.6 275.5 317C276.6 316.4 278.5 317 279.5 316C280.5 315 279.8 314.1 281.6 311.2C283.4 308.3 285.5 303.6 290.2 298.7C294.9 293.8 306.3 285.3 309.7 281.7C313.1 278.1 309.8 278.4 310.3 277.3C310.8 276.2 311.7 275.4 312.8 274.8C313.9 274.2 316.1 274.3 317.2 273.5C318.3 272.7 318.5 270.7 319.7 269.8C320.9 268.9 322.5 268.2 324.1 267.9C325.7 267.6 327.6 268.1 329.1 267.9C330.6 267.7 331.4 267.4 332.9 266.6C334.4 265.8 335 264.1 337.9 262.9C340.8 261.6 346.5 259.9 350 259.1C353.5 258.3 352.1 260.1 358.8 257.9C365.5 255.7 384 248.2 390.3 246C396.6 243.8 394.4 244.4 396.5 244.5C398.6 244.6 395.6 242.8 402.8 246.6C410.1 250.4 432.3 262.8 440 267.3C447.7 271.8 441.1 268 448.9 273.5C456.7 279 479.7 295.1 486.6 300.5C493.5 305.9 489.1 302.9 490.4 306.2C491.6 309.4 493.4 316.7 494.1 320C494.8 323.3 494.9 324.4 494.5 326.2C494.1 328 493.1 329.5 492 330.7C490.9 331.9 493 330.8 487.8 333.6C482.6 336.4 467 344.9 461 347.6C455 350.3 453.4 348.8 452 349.7C450.6 350.6 452.8 352 452.5 353.2C452.2 354.4 452.3 355.8 450.2 356.7C448.1 357.6 441.9 357.7 440 358.7C438.1 359.7 439.3 361.4 438.8 362.7C438.3 363.9 439.1 365.3 437 366.2C434.9 367.1 429.1 367.6 426.4 368.2C423.6 368.8 424 369 420.5 369.9C417 370.8 412.1 373 405.4 373.7C398.7 374.4 386.6 374.1 380.3 374.3C374 374.5 372.7 374.8 367.7 374.9C362.7 375 354.5 374.8 350.1 374.9C345.7 375 343.7 376 341.3 375.5C338.9 375 340.2 375 335.5 371.7C330.8 368.4 320.6 361 313 355.7C305.4 350.4 297.2 344.4 290 339.7C282.8 334.9 273.7 329.7 270 327.2C266.3 324.7 267.3 326.1 267.8 324.8ZM285.8 316C285.7 314.5 285 314.7 286.4 312.2C287.8 309.7 291.7 303.7 294 300.9C296.3 298.1 295.7 298.3 300.3 295.2C304.9 292.1 316.6 285.1 321.6 282C326.6 278.9 328.3 278.2 330.4 276.4C332.5 274.6 332.5 272.8 334.2 271.3C335.9 269.8 337.9 268.8 340.5 267.6C343.1 266.5 346.9 265.4 350 264.4C353.1 263.4 352.7 263.7 358.8 261.4C364.9 259.1 381.2 252.3 386.5 250.7C391.8 249.1 388.6 251.5 390.3 251.9C392 252.3 394.4 253.3 396.5 253.2C398.6 253.1 398.9 250.2 402.8 251.3C406.7 252.4 413.1 256.1 420 260C426.9 263.9 440.2 271.2 443.9 274.5C447.6 277.8 442 278.2 442 279.5C442 280.8 442.5 281.4 443.9 282C445.3 282.6 448.2 283.3 450.2 283.3C452.2 283.3 450.6 279 455.8 282C461 285 477.9 297.9 481.6 301.5C485.3 305.1 478.9 302.5 477.8 303.4C476.8 304.3 475.6 305.8 475.3 307.1C475 308.5 474.8 310.4 475.9 311.5C476.9 312.6 480 313.6 481.6 314C483.2 314.4 484.3 313.1 485.3 314C486.3 314.9 488.6 317.6 487.8 319.7C487 321.8 483.2 324.7 480.3 326.5C477.4 328.3 473.2 329.5 470.6 330.7C468 331.9 467 333.4 464.9 333.5C462.8 333.6 460.7 331.7 458.1 331.2C455.5 330.7 451.7 330.2 449.1 330.7C446.6 331.2 444.1 332.6 442.8 334.1C441.5 335.6 441.7 337.7 441.1 339.8C440.5 341.9 440.2 344.5 439.4 346.6C438.5 348.7 438.2 350.1 436 352.2C433.8 354.3 429 357.4 426.4 359.1C423.8 360.9 424 361.5 420.5 362.7C417 363.9 411.1 365.8 405.4 366.4C399.7 367 392.8 366.2 386.5 366.4C380.2 366.6 373.3 367.7 367.7 367.7C362.1 367.7 356 367 352.6 366.4C349.2 365.8 349.5 364.4 347.6 363.9C345.7 363.4 342.9 363.7 341.3 363.5C339.7 363.3 342.7 365.5 338 362.5C333.3 359.5 321 351 313 345.5C305 340 294.4 333.6 290 329.5C285.6 325.4 287.5 323.2 286.8 321C286.1 318.8 285.9 317.5 285.8 316Z"/>
<path class="w" fill-rule="evenodd" d="M267.8 322.6C268.3 321.4 271.9 318.8 273.2 317.5C274.5 316.2 274.4 315.4 275.5 314.8C276.6 314.2 278.5 314.8 279.5 313.8C280.5 312.8 279.8 311.9 281.6 309C283.4 306.1 285.5 301.4 290.2 296.5C294.9 291.6 306.3 283.1 309.7 279.5C313.1 275.9 309.8 276.2 310.3 275.1C310.8 274 311.7 273.2 312.8 272.6C313.9 272 316.1 272.1 317.2 271.3C318.3 270.5 318.5 268.5 319.7 267.6C320.9 266.7 322.5 266 324.1 265.7C325.7 265.4 327.6 265.9 329.1 265.7C330.6 265.5 331.4 265.2 332.9 264.4C334.4 263.6 335 261.9 337.9 260.7C340.8 259.4 346.5 257.7 350 256.9C353.5 256.1 352.1 257.9 358.8 255.7C365.5 253.5 384 246 390.3 243.8C396.6 241.6 394.4 242.2 396.5 242.3C398.6 242.4 395.6 240.6 402.8 244.4C410.1 248.2 432.3 260.6 440 265.1C447.7 269.6 441.1 265.8 448.9 271.3C456.7 276.8 479.7 292.9 486.6 298.3C493.5 303.8 489.1 300.8 490.4 304C491.6 307.2 493.4 314.5 494.1 317.8C494.8 321.1 494.9 322.2 494.5 324C494.1 325.8 493.1 327.3 492 328.5C490.9 329.7 493 328.6 487.8 331.4C482.6 334.2 467 342.7 461 345.4C455 348.1 453.4 346.6 452 347.5C450.6 348.4 452.8 349.8 452.5 351C452.2 352.2 452.3 353.6 450.2 354.5C448.1 355.4 441.9 355.5 440 356.5C438.1 357.5 439.3 359.2 438.8 360.5C438.3 361.8 439.1 363.1 437 364C434.9 364.9 429.1 365.4 426.4 366C423.6 366.6 424 366.8 420.5 367.7C417 368.6 412.1 370.8 405.4 371.5C398.7 372.2 386.6 371.9 380.3 372.1C374 372.3 372.7 372.6 367.7 372.7C362.7 372.8 354.5 372.6 350.1 372.7C345.7 372.8 343.7 373.8 341.3 373.3C338.9 372.8 340.2 372.8 335.5 369.5C330.8 366.2 320.6 358.8 313 353.5C305.4 348.2 297.2 342.2 290 337.5C282.8 332.8 273.7 327.5 270 325C266.3 322.5 267.3 323.9 267.8 322.6ZM285.8 316C285.7 314.5 285 314.7 286.4 312.2C287.8 309.7 291.7 303.7 294 300.9C296.3 298.1 295.7 298.3 300.3 295.2C304.9 292.1 316.6 285.1 321.6 282C326.6 278.9 328.3 278.2 330.4 276.4C332.5 274.6 332.5 272.8 334.2 271.3C335.9 269.8 337.9 268.8 340.5 267.6C343.1 266.5 346.9 265.4 350 264.4C353.1 263.4 352.7 263.7 358.8 261.4C364.9 259.1 381.2 252.3 386.5 250.7C391.8 249.1 388.6 251.5 390.3 251.9C392 252.3 394.4 253.3 396.5 253.2C398.6 253.1 398.9 250.2 402.8 251.3C406.7 252.4 413.1 256.1 420 260C426.9 263.9 440.2 271.2 443.9 274.5C447.6 277.8 442 278.2 442 279.5C442 280.8 442.5 281.4 443.9 282C445.3 282.6 448.2 283.3 450.2 283.3C452.2 283.3 450.6 279 455.8 282C461 285 477.9 297.9 481.6 301.5C485.3 305.1 478.9 302.5 477.8 303.4C476.8 304.3 475.6 305.8 475.3 307.1C475 308.5 474.8 310.4 475.9 311.5C476.9 312.6 480 313.6 481.6 314C483.2 314.4 484.3 313.1 485.3 314C486.3 314.9 488.6 317.6 487.8 319.7C487 321.8 483.2 324.7 480.3 326.5C477.4 328.3 473.2 329.5 470.6 330.7C468 331.9 467 333.4 464.9 333.5C462.8 333.6 460.7 331.7 458.1 331.2C455.5 330.7 451.7 330.2 449.1 330.7C446.6 331.2 444.1 332.6 442.8 334.1C441.5 335.6 441.7 337.7 441.1 339.8C440.5 341.9 440.2 344.5 439.4 346.6C438.5 348.7 438.2 350.1 436 352.2C433.8 354.3 429 357.4 426.4 359.1C423.8 360.9 424 361.5 420.5 362.7C417 363.9 411.1 365.8 405.4 366.4C399.7 367 392.8 366.2 386.5 366.4C380.2 366.6 373.3 367.7 367.7 367.7C362.1 367.7 356 367 352.6 366.4C349.2 365.8 349.5 364.4 347.6 363.9C345.7 363.4 342.9 363.7 341.3 363.5C339.7 363.3 342.7 365.5 338 362.5C333.3 359.5 321 351 313 345.5C305 340 294.4 333.6 290 329.5C285.6 325.4 287.5 323.2 286.8 321C286.1 318.8 285.9 317.5 285.8 316Z"/>
<path class="l" d="M286.1 319.3C286.2 318.7 285.3 318 286.7 315.5C288.1 313 292 307 294.3 304.2C296.6 301.4 296 301.6 300.6 298.5C305.2 295.4 316.9 288.4 321.9 285.3C326.9 282.2 328.6 281.5 330.7 279.7C332.8 277.9 332.8 276.1 334.5 274.6C336.2 273.1 338.2 272.1 340.8 270.9C343.4 269.8 347.2 268.7 350.3 267.7C353.4 266.7 353 267 359.1 264.7C365.2 262.4 381.6 255.6 386.8 254C392.1 252.4 388.9 254.8 390.6 255.2C392.3 255.6 394.7 256.6 396.8 256.5C398.9 256.4 399.2 253.5 403.1 254.6C407 255.7 413.5 259.4 420.3 263.3C427.1 267.2 440.5 274.6 444.2 277.8C447.9 281.1 442.3 281.6 442.3 282.8C442.3 284.1 442.8 284.7 444.2 285.3C445.6 285.9 448.5 286.6 450.5 286.6C452.5 286.6 450.9 282.3 456.1 285.3C461.3 288.3 477.6 301.6 481.9 304.8"/>
<ellipse class="l" cx="280.2" cy="318.3" rx="3.2" ry="2.2"/>
<ellipse class="l" cx="317.2" cy="275.1" rx="3.7" ry="2.2"/>
<ellipse class="l" cx="326.3" cy="268.8" rx="3.7" ry="2.2"/>
<ellipse class="l" cx="396.3" cy="249" rx="3.8" ry="2.4"/>
<ellipse class="l" cx="449.3" cy="278.2" rx="3.8" ry="2.2"/>
<ellipse class="l" cx="482.8" cy="306.8" rx="4" ry="2.5"/>
<ellipse class="l" cx="453.6" cy="337.5" rx="4.6" ry="2.8"/>
<ellipse class="l" cx="444.5" cy="351.3" rx="3.3" ry="2.1"/>
<ellipse class="l" cx="431.9" cy="361.3" rx="3.5" ry="2.1"/>
<ellipse class="l" cx="345.5" cy="367.7" rx="3.5" ry="2.2"/>
</g>
<g id="cam46">
<path class="w" d="M135.2 406.3L140.1 407.3 139.6 409.7 134.4 410 133.2 412.6 137.5 414.3 135.9 416.6 130.8 416 128.4 418.4 131.9 420.7 129.4 422.7 124.5 421.4 121.2 423.4 123.6 426.2 120.3 427.9 116 425.8 111.8 427.4 113.1 430.5 109.2 431.7 105.7 429.1 101 430 101 433.3 96.7 433.9 94.3 430.9 89.3 431.2 88.1 434.5 83.6 434.5 82.4 431.2 77.4 430.9 75 433.9 70.6 433.3 70.7 430 66 429.1 62.5 431.7 58.5 430.5 59.8 427.4 55.7 425.9 51.4 427.9 48 426.3 50.5 423.4 47.2 421.4 42.3 422.8 39.7 420.8 43.2 418.4 40.9 416 35.7 416.6 34.1 414.3 38.4 412.6 37.2 410 32 409.8 31.5 407.4 36.4 406.4 36.4 403.7 31.5 402.7 32 400.3 37.2 400 38.4 397.4 34.1 395.7 35.7 393.4 40.8 394 43.2 391.6 39.7 389.3 42.2 387.3 47.1 388.6 50.4 386.6 48 383.8 51.3 382.1 55.6 384.2 59.8 382.6 58.5 379.5 62.4 378.3 65.9 380.9 70.6 380 70.6 376.7 74.9 376.1 77.3 379.1 82.3 378.8 83.5 375.5 88 375.5 89.2 378.8 94.2 379.1 96.6 376.1 101 376.7 100.9 380 105.6 380.9 109.1 378.3 113.1 379.5 111.8 382.6 115.9 384.1 120.2 382.1 123.6 383.7 121.1 386.6 124.4 388.6 129.3 387.2 131.9 389.2 128.4 391.6 130.7 394 135.9 393.4 137.5 395.7 133.2 397.4 134.4 400 139.6 400.2 140.1 402.6 135.2 403.6Z"/>
<path class="t" d="M135.2 396.8V406.3M140.1 397.8V407.3M139.6 400.2V409.7M134.4 400.5V410M133.2 403.1V412.6M137.5 404.8V414.3M135.9 407.1V416.6M130.8 406.5V416M128.4 408.9V418.4M131.9 411.2V420.7M129.4 413.2V422.7M124.5 411.9V421.4M121.2 413.9V423.4M123.6 416.7V426.2M120.3 418.4V427.9M116 416.3V425.8M111.8 417.9V427.4M113.1 421V430.5M109.2 422.2V431.7M105.7 419.6V429.1M101 420.5V430M101 423.8V433.3M96.7 424.4V433.9M94.3 421.4V430.9M89.3 421.7V431.2M88.1 425V434.5M83.6 425V434.5M82.4 421.7V431.2M77.4 421.4V430.9M75 424.4V433.9M70.6 423.8V433.3M70.7 420.5V430M66 419.6V429.1M62.5 422.2V431.7M58.5 421V430.5M59.8 417.9V427.4M55.7 416.4V425.9M51.4 418.4V427.9M48 416.8V426.3M50.5 413.9V423.4M47.2 411.9V421.4M42.3 413.3V422.8M39.7 411.3V420.8M43.2 408.9V418.4M40.9 406.5V416M35.7 407.1V416.6M34.1 404.8V414.3M38.4 403.1V412.6M37.2 400.5V410M32 400.3V409.8M31.5 397.9V407.4M36.4 396.9V406.4M36.4 394.2V403.7M135.2 394.1V403.6"/>
<path class="w" d="M135.2 396.8L140.1 397.8 139.6 400.2 134.4 400.5 133.2 403.1 137.5 404.8 135.9 407.1 130.8 406.5 128.4 408.9 131.9 411.2 129.4 413.2 124.5 411.9 121.2 413.9 123.6 416.7 120.3 418.4 116 416.3 111.8 417.9 113.1 421 109.2 422.2 105.7 419.6 101 420.5 101 423.8 96.7 424.4 94.3 421.4 89.3 421.7 88.1 425 83.6 425 82.4 421.7 77.4 421.4 75 424.4 70.6 423.8 70.7 420.5 66 419.6 62.5 422.2 58.5 421 59.8 417.9 55.7 416.4 51.4 418.4 48 416.8 50.5 413.9 47.2 411.9 42.3 413.3 39.7 411.3 43.2 408.9 40.9 406.5 35.7 407.1 34.1 404.8 38.4 403.1 37.2 400.5 32 400.3 31.5 397.9 36.4 396.9 36.4 394.2 31.5 393.2 32 390.8 37.2 390.5 38.4 387.9 34.1 386.2 35.7 383.9 40.8 384.5 43.2 382.1 39.7 379.8 42.2 377.8 47.1 379.1 50.4 377.1 48 374.3 51.3 372.6 55.6 374.7 59.8 373.1 58.5 370 62.4 368.8 65.9 371.4 70.6 370.5 70.6 367.2 74.9 366.6 77.3 369.6 82.3 369.3 83.5 366 88 366 89.2 369.3 94.2 369.6 96.6 366.6 101 367.2 100.9 370.5 105.6 371.4 109.1 368.8 113.1 370 111.8 373.1 115.9 374.6 120.2 372.6 123.6 374.2 121.1 377.1 124.4 379.1 129.3 377.7 131.9 379.7 128.4 382.1 130.7 384.5 135.9 383.9 137.5 386.2 133.2 387.9 134.4 390.5 139.6 390.7 140.1 393.1 135.2 394.1Z"/>
<path class="l" d="M47.6 398.7L48.2 390.1 56.4 382.6 61.4 385.7 59.5 388.2 62.7 394.5 72.7 393.3 72.1 396.2 47.6 398.7"/>
<path class="l" d="M55.2 389.5L56.4 382.6"/>
<path class="l" d="M55.2 389.5L48.2 398.3"/>
<path class="l" d="M55.2 389.5L61.4 395.2"/>
<path class="l" d="M50.1 404.6L74.6 401.4 77.8 403.3 77.1 409.6 72.7 416.5 62.7 412.7 50.1 404.6"/>
<path class="l" d="M58.9 409.6L74.6 407.7"/>
<path class="l" d="M74.6 401.4L74.6 407.7"/>
<path class="l" d="M80.3 417.8L84 409.6 91.6 403.3 95.4 405.2 109.2 413.4 100.4 416.5 87.8 418.4 80.3 417.8"/>
<path class="l" d="M85.3 412.7L95.4 415.3"/>
<path class="l" d="M84 409.6L87.8 417.8"/>
<path class="l" d="M62.7 378.2L71.5 375.7 72.1 380.1 67.7 381.3 62.7 378.2"/>
<path class="l" d="M100.1 398.9L123.4 393.3 124.6 397.7 122.7 403.9 116.5 409.6 100.1 398.9"/>
<path class="l" d="M103.9 395.8L124 392.4"/>
<path class="l" d="M107.7 402.7L123.4 400.2"/>
<path class="l" d="M99.5 375.7C101.3 376.2 107.1 377.5 110.2 378.8C113.2 380.2 115.8 382.4 117.7 383.8C119.6 385.3 120.9 387 121.5 387.6"/>
<path class="l" d="M121.5 387.6L102 391.4 99.5 383.8"/>
<path class="l" d="M102 383.8L116.5 382.6"/>
<path class="l" d="M93.8 401.4L110.2 412.7 97.6 416.5 80 418.4 85.1 407.7"/>
<g>
<path class="l" d="M81.5 393.3L90.3 414"/>
<path class="l" d="M83.4 392.6L92.2 413.4"/>
<path class="l" d="M97.6 387.6L102.6 398.9"/>
<path class="l" d="M99.5 387L104.5 398.3"/>
<path class="l" d="M77.1 390.1C77.2 391.4 76.6 395.8 77.8 397.7C78.9 399.5 81.5 401.2 84 401.4C86.6 401.6 91.2 400.8 92.8 398.9C94.5 397 93.9 391.6 94.1 390.1"/>
<path class="w" d="M72.1 375.1C72.2 376.5 71.6 381.4 72.7 383.8C73.9 386.3 76.7 388.2 79 389.5C81.3 390.8 83.8 391.6 86.6 391.4C89.3 391.2 93.3 389.9 95.4 388.2C97.4 386.6 98.5 383.5 99.1 381.3C99.7 379.1 99.1 376.1 99.1 375.1"/>
<path class="l" d="M79 383.8L79 389.5"/>
<path class="l" d="M83.4 385.1L83.4 390.8"/>
<path class="l" d="M72.1 376.3C73.1 377.2 75.4 380.7 77.8 382C80.2 383.2 83.6 383.9 86.6 383.8C89.5 383.7 93.3 382.6 95.4 381.3C97.4 380.1 98.5 377.1 99.1 376.3"/>
<path class="w" d="M73.4 354L73.4 376.6 80.3 379.1 85.9 379.7 92.8 378.9 98.1 376.6 98.1 354"/>
<path class="w" d="M72.1 340.2C71.9 342.1 71.2 345.5 72.1 347.7C73.1 349.9 75.1 351.9 77.8 353.4C80.4 354.8 84.5 356.6 87.8 356.5C91.2 356.4 95.1 354.6 97.9 352.7C100.6 350.9 103.1 347.7 104.1 345.2C105.2 342.7 104.8 339.4 104.1 337.7C103.5 335.9 101.5 334.9 100.4 334.5C99.2 334.1 99.7 335.4 97.2 335.2C94.7 334.9 89.3 333.1 85.3 333.3C81.3 333.5 75.6 335.3 73.4 336.4C71.2 337.6 72.3 338.3 72.1 340.2Z"/>
<path class="l" d="M72.1 340.8C73.1 341.5 75.1 344.2 77.8 345.2C80.4 346.2 84.9 347.3 87.8 347.1C90.7 346.9 93.3 345.1 95.4 343.9C97.4 342.8 99 341.2 100.4 340.2C101.8 339.2 103.3 338.3 103.9 337.9"/>
<path class="w" d="M73.4 332C73.4 333.4 72.4 338.2 73.4 340.2C74.3 342.2 76.6 343.1 79 343.9C81.4 344.7 85.1 345.2 87.8 344.9C90.5 344.7 93.6 343.5 95.4 342.7C97.1 341.9 97.7 342.3 98.1 340.2C98.6 338.1 98.1 331.8 98.1 330.1"/>
<path class="l" d="M73.4 332C74.1 332.8 75.6 335.8 77.8 337C79.9 338.2 83.5 339.2 86.2 339.2C88.9 339.2 92.1 338 94.1 337C96.1 336.1 97.4 333.9 98.1 333.3"/>
<path class="l" d="M73.4 332C73.7 331.4 74.6 329.1 75.3 328.2C75.9 327.4 77.1 327.2 77.5 327"/>
<path class="l" d="M94.7 327C95.1 327.2 96.7 327.6 97.2 328.2C97.8 328.9 98 330.3 98.1 330.8"/>
<path class="w" d="M77.5 322.6C77.5 324.2 76.8 329.9 77.5 332C78.2 334.1 80.1 334.4 81.5 335.2C83 335.9 84.5 336.4 86.2 336.4C87.9 336.4 90.2 335.8 91.6 335.2C93 334.5 94.2 334.7 94.7 332.6C95.2 330.5 94.7 324.3 94.7 322.6"/>
</g>
<ellipse class="w" cx="86.2" cy="322.2" rx="8.7" ry="4.9"/>
<ellipse class="l" cx="86.2" cy="322.2" rx="6.5" ry="3.5"/>
</g>
<g id="gov43">
<path class="l" d="M36.3 509L70.2 487.7 87.8 498.4 87.8 500.3 52.6 519.7 37.5 511.6 36.3 509"/>
<path class="l" d="M36.3 509C36.2 509.4 35.4 510.3 35.7 510.9C35.9 511.6 37.2 512.5 37.5 512.8"/>
<path class="l" d="M37.5 512.8L52.6 521 89 500.9"/>
<ellipse class="l" cx="52.6" cy="508" rx="9.5" ry="5.7"/>
<ellipse class="l" cx="52.9" cy="508.8" rx="8.3" ry="4.6"/>
<path class="l" d="M56.4 487.7L58.9 486.2 62.9 488.9"/>
<path class="l" d="M57 487.7L57.9 492.7"/>
<path class="l" d="M70.1 512.1C70.5 512.8 70.9 514.9 72.6 516.5C74.2 518.1 78.2 519.6 80.1 521.5C82 523.4 83.2 526.7 83.9 527.8"/>
<path class="l" d="M83.9 527.8L98.9 536 100.8 533.4 103.3 535.3 112.8 539.7 115.3 535.3 116.5 531.6 119 531.6 118.4 522.8 115.3 519 92.7 505.2"/>
<path class="l" d="M92.7 505.2C92.5 504.4 92.2 501.7 91.4 500.8C90.6 499.8 88.3 499.7 87.6 499.5"/>
<ellipse class="l" cx="85.5" cy="508.9" rx="2.1" ry="3.8" transform="rotate(-25 85.5 508.9)"/>
<ellipse class="l" cx="96.7" cy="515.6" rx="1.6" ry="2.9" transform="rotate(-25 96.7 515.6)"/>
<path class="l" d="M72.1 483.3C73.9 482.6 79.3 479.4 82.8 479.1C86.2 478.9 89.9 480 92.8 481.7C95.7 483.3 97.8 485.8 100.4 488.9C102.9 492 105.7 496.6 107.9 500.3C110.1 503.9 112.6 509.1 113.5 510.9"/>
<path class="l" d="M72.7 487.1C74.4 486.9 79.6 485.1 82.8 485.8C85.9 486.5 88.9 489 91.6 491.5C94.2 493.9 96.2 497.1 98.5 500.3C100.8 503.4 103.4 508.2 105.4 510.3C107.4 512.4 109.6 512.4 110.4 512.8"/>
<path class="l" d="M72.1 483.3L72.7 487.1"/>
<path class="l" d="M78.4 477.9L81.5 470.4 85.9 468.8 89 472.9 85.3 477.9"/>
<path class="l" d="M82.8 471.4L84.3 476.4"/>
<path d="M74.3 484.3C75 484 77.2 483 78.7 482.8C80.1 482.6 81.7 482.6 83.1 482.9C84.5 483.2 85.8 483.9 87.2 484.5C88.5 485.2 90 485.9 91.2 486.8C92.5 487.7 93.6 488.9 94.7 490C95.8 491.2 97 492.4 98 493.8C99.1 495.1 100 496.8 101 498.2C101.9 499.6 102.9 501 103.8 502.3C104.7 503.6 105.5 504.9 106.3 506C107.2 507.2 108.5 508.6 109 509.2" fill="none" stroke="#111" stroke-width="2.6" stroke-dasharray="1.5 1.9"/>
<path d="M75.2 486.7C75.9 486.5 78.1 485.7 79.6 485.6C81.1 485.4 82.6 485.6 84 486.1C85.4 486.5 86.6 487.3 87.9 488C89.2 488.7 90.6 489.5 91.8 490.5C93 491.5 94 492.7 95.1 493.9C96.2 495.1 97.3 496.3 98.4 497.6C99.4 499 100.3 500.7 101.3 502C102.2 503.4 103.2 504.7 104.1 506C105 507.2 105.7 508.4 106.6 509.4C107.5 510.4 108.9 511.5 109.3 511.9" fill="none" stroke="#222" stroke-width="2" stroke-dasharray="1.3 2.1" stroke-dashoffset="1.6"/>
<path class="h" d="M71.5 486.7L87.8 498"/>
<path class="l" d="M99.1 476.6L107.9 469.5 113.2 472 111.7 476.6 105.4 480.4"/>
<path class="l" d="M103.5 473.2L109.1 475.1"/>
<path class="l" d="M90.3 477C91.6 477.4 95.5 478 97.8 479.5C100.1 481.1 102 483.4 104.1 486.4C106.2 489.5 108.5 494.6 110.4 497.7C112.3 500.9 114.6 504 115.4 505.3"/>
<path class="l" d="M112.9 476.4C114.2 476.8 118.7 477.5 120.5 479.1C122.2 480.8 123.2 484 123.2 486.4C123.3 488.9 122 492.3 120.7 494C119.4 495.7 116.5 496.3 115.7 496.7"/>
<path class="l" d="M116.7 481.4C117.1 482.2 119.2 484.5 119.4 486.4C119.7 488.3 118.2 491.7 117.9 492.7"/>
<path class="l" d="M105.4 480.4L110.4 491.5 112.9 487.7 110.4 481.4 113.2 477"/>
<path class="l" d="M112.9 487.7L116.7 495.2"/>
<path class="l" d="M117.9 504L130 494 128 493.3 117.9 500.3"/>
<path class="l" d="M130 494L130.5 496.7 120.5 505.3"/>
<path class="l" d="M112.9 510.3L123 509 127 511.6 117.9 515.6 111.7 514.1"/>
<path class="l" d="M117.9 515.6L118.6 520.4"/>
<path class="l" d="M89 500.3C89.9 500.5 93 500.5 94.1 501.5C95.1 502.6 94.3 505.1 95.3 506.5C96.4 508 99.5 509.7 100.4 510.3"/>
<path class="l" d="M100.4 510.3L117.9 520.4"/>
</g>
<g id="seal20">
<path class="l" d="M370.4 482A18 10.5 0 0 1 334.4 482"/>
<path class="l" d="M334.4 476.4L334.4 482"/>
<path class="l" d="M370.4 476.4L370.4 482"/>
<ellipse class="l" cx="352.4" cy="476.4" rx="18" ry="10.5"/>
<ellipse class="h" cx="352.4" cy="476.4" rx="12" ry="6.6"/>
<path class="l" d="M342.6 478.5A10.1 4.7 0 0 1 362.2 478.5"/>
<ellipse class="t" cx="352.4" cy="467.8" rx="0.9" ry="0.8"/>
<ellipse class="t" cx="363.3" cy="470" rx="0.9" ry="0.8"/>
<ellipse class="t" cx="367.4" cy="476.4" rx="0.9" ry="0.8"/>
<ellipse class="t" cx="363.3" cy="482.8" rx="0.9" ry="0.8"/>
<ellipse class="t" cx="352.4" cy="485" rx="0.9" ry="0.8"/>
<ellipse class="t" cx="341.5" cy="482.8" rx="0.9" ry="0.8"/>
<ellipse class="t" cx="337.4" cy="476.4" rx="0.9" ry="0.8"/>
<ellipse class="t" cx="341.9" cy="470" rx="0.9" ry="0.8"/>
</g>
<g id="plug15">
<ellipse class="l" cx="351.1" cy="511.9" rx="8.6" ry="4.9"/>
<path class="l" d="M342.4 512.6C342.4 513.1 342.7 514.6 342.4 515.6C342.1 516.7 340.7 516.8 340.4 519C340 521.2 340.1 526.6 340.4 528.8C340.7 530.9 341.1 530.9 342.3 531.8C343.4 532.6 346 533.3 347.5 533.6C349 534 349.9 533.9 351.1 533.9C352.4 533.9 353.5 534 355 533.6C356.5 533.3 358.7 532.6 359.9 531.8C361 530.9 361.6 530.9 361.9 528.8C362.2 526.6 362.3 521.2 361.9 519C361.5 516.8 360 516.7 359.7 515.6C359.3 514.6 359.7 513.1 359.7 512.6"/>
<path class="t" d="M359.9 514.5A8.9 4.1 0 0 1 342.3 514.5"/>
<path class="l" d="M361.8 517.5A10.7 4.1 0 0 1 340.4 517.5"/>
<path class="t" d="M361.8 520.5A10.7 4.1 0 0 1 340.4 520.5"/>
<path class="l" d="M361.8 523.5A10.7 4.1 0 0 1 340.4 523.5"/>
<path class="t" d="M361.8 526.5A10.7 4.1 0 0 1 340.4 526.5"/>
<path class="l" d="M361.8 529.1A10.7 4.1 0 0 1 340.4 529.1"/>
</g>
<g id="bolt22">
<path class="l" d="M578 476.3L578.4 481.1 585.5 485.3 594.5 484.1 597.1 480 597.5 475.5"/>
<path class="l" d="M585.5 480.4L585.5 485.3"/>
<path class="l" d="M594.5 479.4L594.5 484.1"/>
<path class="h" d="M578.4 478.4L585.5 480.2 594.5 479.4 597.3 477.2"/>
<path class="l" d="M598.9 474.4A11.1 6 0 0 1 576.7 474.4"/>
<path class="l" d="M576.7 472.5L576.7 474.4"/>
<path class="l" d="M598.9 472.5L598.9 474.4"/>
<ellipse class="w" cx="587.8" cy="472.5" rx="11.1" ry="6"/>
<path class="w" d="M582.3 424.4L582.3 471.6 584.8 474.2 587.5 474.8 590.8 474.2 592.8 472.5 592.8 424.4"/>
<path class="t" d="M593 425.5L593 471.3"/>
<ellipse class="w" cx="587.5" cy="424.4" rx="5.3" ry="3.2"/>
<path class="l" d="M582.3 425.1C582.7 425.5 583.9 426.7 584.8 427.2C585.6 427.6 586.5 427.7 587.5 427.8C588.5 427.8 589.9 427.6 590.8 427.4C591.6 427.1 592.4 426.4 592.8 426.3"/>
<path class="l" d="M582.3 431.9C582.7 432.2 583.9 433.5 584.8 433.9C585.6 434.3 586.5 434.5 587.5 434.5C588.5 434.5 589.9 434.4 590.8 434.1C591.6 433.9 592.4 433.2 592.8 433"/>
<path class="l" d="M582.3 438.6C582.7 439 583.9 440.2 584.8 440.7C585.6 441.1 586.5 441.2 587.5 441.3C588.5 441.3 589.9 441.1 590.8 440.9C591.6 440.6 592.4 439.9 592.8 439.8"/>
<path class="l" d="M582.3 445.4C582.7 445.7 583.9 447 584.8 447.4C585.6 447.8 586.5 448 587.5 448C588.5 448 589.9 447.9 590.8 447.6C591.6 447.4 592.4 446.7 592.8 446.5"/>
<path class="l" d="M582.3 452.1C582.7 452.5 583.9 453.7 584.8 454.2C585.6 454.6 586.5 454.7 587.5 454.8C588.5 454.8 589.9 454.6 590.8 454.4C591.6 454.1 592.4 453.4 592.8 453.3"/>
<path class="l" d="M582.3 458.9C582.7 459.2 583.9 460.5 584.8 460.9C585.6 461.3 586.5 461.5 587.5 461.5C588.5 461.5 589.9 461.4 590.8 461.1C591.6 460.9 592.4 460.2 592.8 460"/>
<path class="l" d="M582.3 465.3C582.7 465.6 583.9 466.8 584.8 467.3C585.6 467.7 586.5 467.8 587.5 467.9C588.5 467.9 589.9 467.8 590.8 467.5C591.6 467.3 592.4 466.6 592.8 466.4"/>
</g>
<g id="bolt287">
<path class="l" d="M523.3 65.4L523.3 73.3 525.1 74.9 527 75.5 529.1 74.9 530.8 73.3 530.8 65.4"/>
<path class="h" d="M523.3 66.9C523.9 67.2 525.8 68.5 527 68.5C528.3 68.5 530.1 67.2 530.8 66.9"/>
<path class="l" d="M523.3 68.8C523.9 69 525.8 70.4 527 70.4C528.3 70.4 530.1 69 530.8 68.8"/>
<path class="h" d="M523.3 70.6C523.9 70.9 525.8 72.3 527 72.3C528.3 72.3 530.1 70.9 530.8 70.6"/>
<path class="l" d="M523.3 72.5C523.9 72.8 525.8 74.2 527 74.2C528.3 74.2 530.1 72.8 530.8 72.5"/>
<path class="t" d="M525.5 66.5L525.5 74.8"/>
<path class="t" d="M528.5 66.5L528.5 74.8"/>
<path class="l" d="M522.1 58.6L522.1 65.4 523.3 65.9"/>
<path class="l" d="M531.5 58.6L531.5 65.4 530.8 65.9"/>
<path class="l" d="M522.1 65.4C522.9 65.6 525.1 66.9 526.6 66.9C528.2 66.9 530.7 65.6 531.5 65.4"/>
<path class="w" d="M521 48.5C520.8 49.1 520.2 51.2 519.9 52.3C519.6 53.3 519 54 519.4 54.9C519.7 55.8 520.6 56.9 521.8 57.5C522.9 58.2 524.6 58.7 526.3 58.8C527.9 58.8 530.1 58.4 531.5 57.9C532.9 57.4 534.2 56.5 534.7 55.6C535.1 54.8 534.4 53.8 534.1 52.6C533.9 51.4 533.2 49.2 533 48.5"/>
<path class="h" d="M519.4 54.9C519.8 55.3 520.6 56.9 521.8 57.5C522.9 58.2 524.6 58.7 526.3 58.8C527.9 58.8 530.1 58.4 531.5 57.9C532.9 57.4 534.1 56 534.7 55.6"/>
<path class="l" d="M519.9 52.3C520.3 52.6 521.6 53.9 522.5 54.1C523.4 54.3 523.7 53.6 525.1 53.4C526.6 53.1 529.6 52.9 531.1 52.6C532.6 52.4 533.6 52 534.1 51.9"/>
<path class="l" d="M525.1 53.4L525.1 58.1"/>
<path class="l" d="M531.1 52.6L531.1 57.7"/>
<ellipse class="w" cx="527" cy="48.1" rx="6" ry="3.8"/>
<ellipse class="h" cx="527" cy="48.1" rx="6" ry="3.8"/>
</g>
<g id="tube525">
<path class="l" d="M618 219C617.8 220 616.8 223.2 617 225C617.2 226.8 617.8 228.5 619 230C620.2 231.5 622.3 233.2 624 234C625.7 234.8 627.2 235.3 629 235C630.8 234.7 633.5 233.2 635 232C636.5 230.8 637.3 229.5 638 228C638.7 226.5 638.8 223.8 639 223"/>
<path class="h" d="M617.5 221C618.4 221.8 621.1 224.9 623 226C624.9 227.1 627 227.5 629 227.5C631 227.5 633.4 226.8 635 226C636.6 225.2 638.2 223.1 638.8 222.5"/>
<path class="l" d="M617.5 223.5C618.4 224.4 621.1 227.7 623 228.8C624.9 229.9 627 230.3 629 230.3C631 230.3 633.4 229.5 635 228.5C636.6 227.5 638.2 225.1 638.8 224.5"/>
<path class="h" d="M617.5 226C618.4 227 621.1 230.4 623 231.6C624.9 232.8 627 233.2 629 233.1C631 233 633.4 232.2 635 231C636.6 229.9 638.2 227.2 638.8 226.4"/>
<path class="l" d="M617.5 228.6C618.4 229.5 621.1 233.2 623 234.4C624.9 235.6 627 236 629 235.9C631 235.8 633.4 234.8 635 233.6C636.6 232.3 638.2 229.2 638.8 228.4"/>
<path class="w" d="M623.5 204C621.1 204.8 619.7 205.9 618.5 207.5C617.3 209.1 616.3 211.6 616.5 213.5C616.7 215.4 617.3 217.3 619.5 218.8C621.7 220.3 626.2 222.1 629.5 222.5C632.8 222.9 636.6 222.5 639 221.5C641.4 220.5 642.9 218.2 643.8 216.5C644.7 214.8 644.8 212.7 644.5 211.2C644.2 209.7 643.9 208.9 642 207.5C640.1 206.1 636.1 203.6 633 203C629.9 202.4 625.9 203.2 623.5 204Z"/>
<path class="l" d="M616.8 215C617.2 215.9 617.4 218.7 619.5 220.2C621.6 221.7 626.2 223.6 629.5 224C632.8 224.4 636.6 223.9 639 222.8C641.4 221.7 643.2 218.4 644 217.5"/>
<path class="w" d="M626.5 196C625.8 198.5 623 207.8 622.5 211C622 214.2 622.8 213.8 623.5 215C624.2 216.2 625.4 217.3 627 218C628.6 218.7 631.1 219.5 633 219C634.9 218.5 636.8 218.3 638.5 215C640.2 211.7 642.4 201.7 643.2 199"/>
<path class="w" d="M623.5 104L625 150 627.5 185 627.5 196 632 200 638 201 643.5 199 644.5 185 646 150 649 98"/>
<path class="l" d="M598 85C598.1 86.3 598.2 90.2 598.5 93C598.8 95.8 599.8 99.5 600 102C600.2 104.5 599 106.8 599.5 108C600 109.2 601.8 109.4 603 109.5C604.2 109.6 605.8 109.2 606.5 108.5C607.2 107.8 606.9 105.6 607 105"/>
<path class="l" d="M600 102L603 100 624 102.5 625.5 104.5 625 106.5 607 105"/>
<path class="l" d="M615 86L614.5 91"/>
<path class="l" d="M600 94L603 97 601 100"/>
<path class="h" d="M614 98.5L617 94.5 619.5 97.2 614 98.5"/>
<ellipse class="w" cx="606.5" cy="84.5" rx="8.6" ry="5"/>
<path class="l" d="M615 86.7A8.6 5 0 0 1 598 86.7"/>
<ellipse class="l" cx="606.5" cy="84.5" rx="3.2" ry="2"/>
<path class="l" d="M617 90C618.7 91.3 623.8 96.4 627 98C630.2 99.6 632.7 99.5 636 99.5C639.3 99.5 643.8 99.4 647 98C650.2 96.6 653.7 92.2 655 91"/>
<path class="l" d="M616.2 85C617.7 86.5 621.7 92.1 625 94C628.3 95.9 632 96.5 636 96.5C640 96.5 645.6 95.6 649 94C652.4 92.4 655 88.2 656.2 87"/>
<path class="l" d="M616.2 81.5L616.2 90"/>
<path class="l" d="M656.2 81.5L656.2 91"/>
<path class="h" d="M628 97.2L645 97.2"/>
<ellipse class="w" cx="636" cy="81.5" rx="20" ry="12.5"/>
<ellipse class="l" cx="636" cy="81.5" rx="16.6" ry="10"/>
<ellipse class="l" cx="636" cy="82.2" rx="13" ry="7.6"/>
<path class="h" d="M645 71L647.5 72.8 650.5 75"/>
<path class="h" d="M620 86.2L628 89.8"/>
<path class="l" d="M618 87.5L621 85 629 89 627 92"/>
</g>
<g id="ring524">
<ellipse class="l" cx="619.3" cy="248.4" rx="12.8" ry="7.4" transform="rotate(15 619.3 248.4)"/>
<ellipse class="l" cx="619.1" cy="248.2" rx="10.5" ry="5.4" transform="rotate(15 619.1 248.2)"/>
</g>
<g id="dip523">
<path class="t" style="stroke-dasharray:1 1" d="M742.8 76V221"/>
<path class="l" d="M748.4 76V133Q749 142 748.6 147V218L743 222"/>
<path d="M744.2 76H748.2V133H744.2Z" fill="#222"/>
<path d="M745 84h1.6v3h-1.6zM745 96h1.6v4h-1.6zM745 112h1.6v4h-1.6zM745.4 124h1.2v3h-1.2z" fill="#fff"/>
<path class="l" d="M744.2 133L743 145V207"/>
<path d="M743 207L746.5 190L748.4 188V219L743.5 222Z" fill="#222"/>
<path d="M745.5 192h1.5v3h-1.5zM745.6 199h1.4v3h-1.4zM746 212h1.4v3h-1.4z" fill="#fff"/>
<path class="w" d="M724.2 52.6C723.6 55.8 723.2 61.2 724.7 64.4C726.3 67.6 730.3 70 733.7 71.7C737.2 73.5 741.4 75.1 745.6 75.1C749.7 75.1 754.9 73.4 758.5 71.7C762.1 70.1 765.5 68.2 766.9 65C768.3 61.8 767.6 55.8 766.9 52.6C766.3 49.4 766.7 47.7 763 45.9C759.3 44 750.8 41.5 745 41.4C739.2 41.3 731.6 43.4 728.1 45.3C724.7 47.2 724.7 49.4 724.2 52.6Z"/>
<path class="l" d="M724.2 53.7C724.8 54.7 726 57.7 728.1 59.4C730.3 61.1 733.9 62.9 737.1 63.9C740.3 64.8 743.7 65.1 747.2 65C750.8 64.9 755.7 64.2 758.5 63.3C761.3 62.4 763.2 60 764.1 59.4"/>
<ellipse class="h" cx="733.7" cy="57.1" rx="7.6" ry="3.8" transform="rotate(25 733.7 57.1)"/>
<ellipse class="l" cx="734.3" cy="57.5" rx="5.4" ry="2.2" transform="rotate(25 734.3 57.5)"/>
<path class="w" d="M729.8 39.1C729.8 37.6 730.7 36 731.5 35.2C732.3 34.3 732.1 33.5 734.9 34.1C737.7 34.6 744.4 36.9 748.4 38.6C752.3 40.2 756.1 42.9 758.5 44.2C760.9 45.5 761.8 45.5 763 46.4C764.2 47.4 764.9 48.4 765.5 49.8C766 51.2 767.1 53.7 766.4 54.9C765.7 56.1 762.2 56.1 761.3 57.1C760.5 58.2 761.8 60.3 761.3 61.1C760.8 61.8 759.5 62.5 758.5 61.8C757.5 61.2 757 58.7 755.1 57.1C753.2 55.6 750.2 54.3 747.2 52.6C744.2 50.9 739.7 48.4 737.1 47C734.5 45.6 732.7 45.5 731.5 44.2C730.3 42.9 729.8 40.6 729.8 39.1Z"/>
<path class="l" d="M731.5 38C734.1 39.1 742.9 42.1 747.2 44.7C751.6 47.4 755.4 51.2 757.4 53.7C759.3 56.3 758.8 58.9 759.1 59.9"/>
<path class="l" d="M733.7 35.7C736.4 36.7 745 39.1 749.5 41.4C754 43.6 758.7 46.6 760.7 49.2C762.8 51.9 761.5 55.8 761.6 57.1"/>
<path class="h" d="M748.4 38.6L758.5 44.2 764.7 48.1"/>
<path class="h" d="M736 48.1L745 53.7 750.6 54.3"/>
<path class="h" d="M737.7 49.8L742.7 53.7"/>
<path class="h" d="M733.7 46.4L736 50.9"/>
</g>
<g id="ring842">
<ellipse class="l" cx="746.7" cy="95.8" rx="21.4" ry="12.4"/>
<ellipse class="l" cx="746.7" cy="95.2" rx="16.9" ry="9"/>
<path d="M741.5 103.5Q746 105 750 103.8L750 107.6Q746 108.6 741.5 107.6Z" fill="#fff"/>
<path class="l" d="M754 107.4A21.4 12.4 0 0 1 739.4 107.4"/>
<path class="l" d="M752.5 103.7A16.9 9 0 0 1 740.9 103.7"/>
</g>
<g id="labels">
<text x="557.3" y="17">847</text>
<text x="568.6" y="55.3">525</text>
<text x="680.4" y="30.6">523</text>
<text x="488" y="71.5">287</text>
<text x="698.6" y="108.4">842</text>
<text x="578.9" y="256.3">524</text>
<text x="219.3" y="252.8">4</text>
<text x="268.6" y="290.6">12</text>
<text x="15.2" y="230">48</text>
<text x="7.4" y="398.1">46</text>
<text x="13.4" y="516.6">43</text>
<text x="313.2" y="490.4">20</text>
<text x="316.6" y="532.5">15</text>
<text x="555.8" y="489.8">22</text>
<text x="228.6" y="565.9" textLength="279.6" lengthAdjust="spacing">Assemblies include all parts shown in frames</text>
</g>
</svg>
</body>
</html>
